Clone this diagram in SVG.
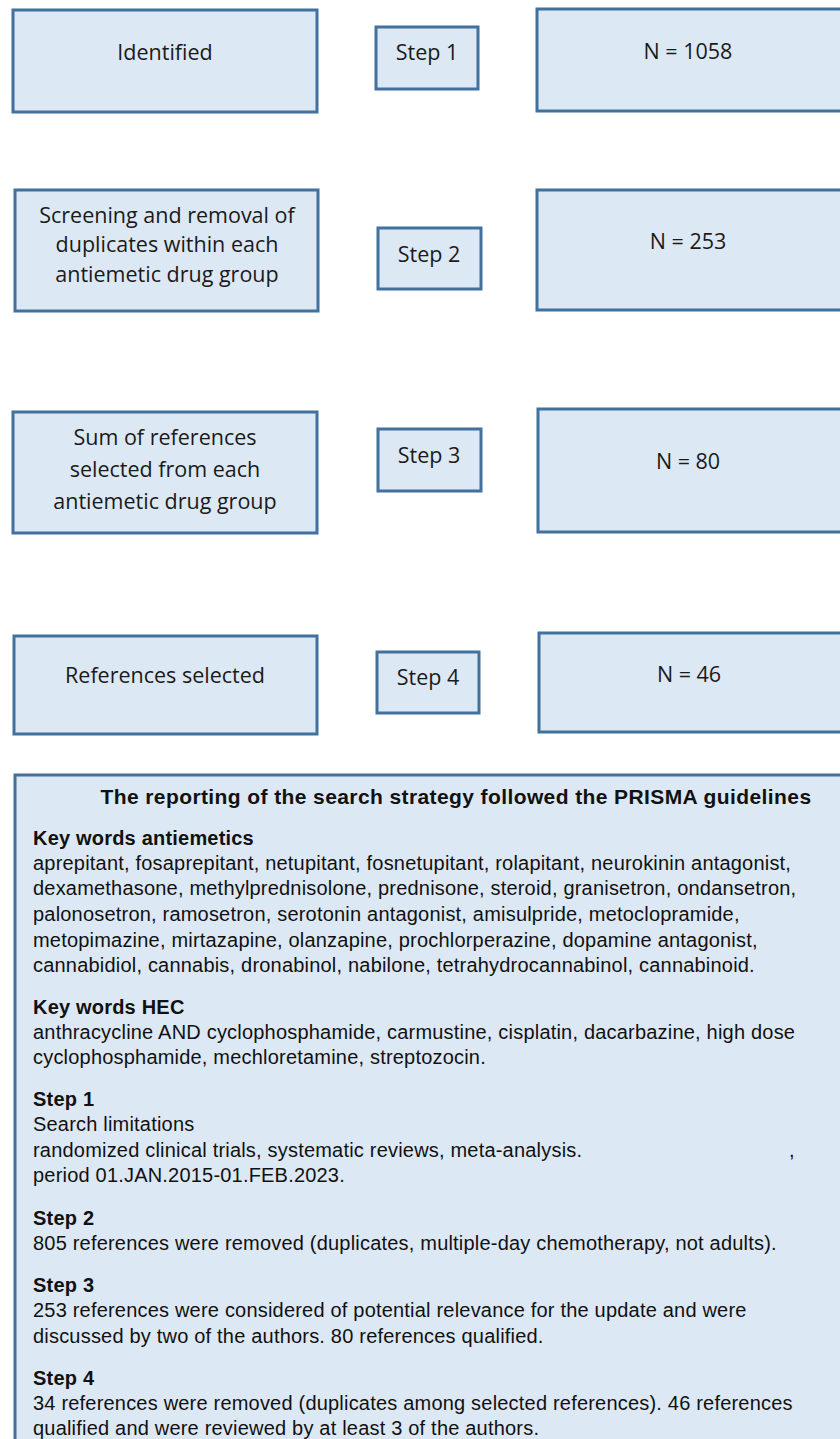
<svg xmlns="http://www.w3.org/2000/svg" width="840" height="1439" viewBox="0 0 840 1439">
<style>
.box{fill:#dde8f5;stroke:#41719c;stroke-width:3}
.bt{font-family:"Open Sans","Noto Sans",sans-serif;font-size:21.5px;fill:#1a1a1a;text-anchor:middle}
.tx{font-family:"Liberation Sans",Arial,sans-serif;font-size:20px;fill:#111;letter-spacing:0.2px}
.b{font-weight:bold}
.ti{font-size:21px;letter-spacing:0.4px}
</style>
<rect width="840" height="1439" fill="#fff"/>
<g id="connectors"/>
<g id="identified"><rect class="box" x="13" y="10" width="304" height="102"/><text class="bt" x="165" y="60">Identified</text></g>
<g id="step1"><rect class="box" x="376" y="27" width="102" height="62"/><text class="bt" x="427" y="60">Step 1</text></g>
<g id="n1058"><rect class="box" x="537" y="9" width="320" height="102"/><text class="bt" x="688" y="59">N = 1058</text></g>

<g id="screening"><rect class="box" x="15" y="190" width="303" height="121"/><text class="bt" x="167" y="223">Screening and removal of</text><text class="bt" x="167" y="252">duplicates within each</text><text class="bt" x="167" y="282">antiemetic drug group</text></g>
<g id="step2"><rect class="box" x="378" y="228" width="103" height="61"/><text class="bt" x="429" y="262">Step 2</text></g>
<g id="n253"><rect class="box" x="537" y="190" width="320" height="120"/><text class="bt" x="688" y="249">N = 253</text></g>

<g id="sum"><rect class="box" x="13" y="412" width="304" height="121"/><text class="bt" x="165" y="445">Sum of references</text><text class="bt" x="165" y="477">selected from each</text><text class="bt" x="165" y="509">antiemetic drug group</text></g>
<g id="step3"><rect class="box" x="378" y="429" width="103" height="62"/><text class="bt" x="429" y="463">Step 3</text></g>
<g id="n80"><rect class="box" x="538" y="409" width="320" height="123"/><text class="bt" x="688" y="469">N = 80</text></g>

<g id="selected"><rect class="box" x="14" y="636" width="303" height="98"/><text class="bt" x="165" y="683">References selected</text></g>
<g id="step4"><rect class="box" x="377" y="652" width="102" height="61"/><text class="bt" x="428" y="685">Step 4</text></g>
<g id="n46"><rect class="box" x="539" y="633" width="320" height="99"/><text class="bt" x="689" y="682">N = 46</text></g>

<g id="notes">
<rect class="box" x="15" y="775" width="840" height="700"/>
<text class="tx b ti" x="456" y="804" text-anchor="middle">The reporting of the search strategy followed the PRISMA guidelines</text>
<text class="tx b" x="33" y="845">Key words antiemetics</text>
<text class="tx" x="33" y="870">aprepitant, fosaprepitant, netupitant, fosnetupitant, rolapitant, neurokinin antagonist,</text>
<text class="tx" x="33" y="895">dexamethasone, methylprednisolone, prednisone, steroid, granisetron, ondansetron,</text>
<text class="tx" x="33" y="921">palonosetron, ramosetron, serotonin antagonist, amisulpride, metoclopramide,</text>
<text class="tx" x="33" y="947">metopimazine, mirtazapine, olanzapine, prochlorperazine, dopamine antagonist,</text>
<text class="tx" x="33" y="972">cannabidiol, cannabis, dronabinol, nabilone, tetrahydrocannabinol, cannabinoid.</text>
<text class="tx b" x="33" y="1014">Key words HEC</text>
<text class="tx" x="33" y="1039">anthracycline AND cyclophosphamide, carmustine, cisplatin, dacarbazine, high dose</text>
<text class="tx" x="33" y="1064">cyclophosphamide, mechloretamine, streptozocin.</text>
<text class="tx b" x="33" y="1106">Step 1</text>
<text class="tx" x="33" y="1131">Search limitations</text>
<text class="tx" x="33" y="1157">randomized clinical trials, systematic reviews, meta-analysis.</text>
<text class="tx" x="789" y="1157">,</text>
<text class="tx" x="33" y="1182">period 01.JAN.2015-01.FEB.2023.</text>
<text class="tx b" x="33" y="1225">Step 2</text>
<text class="tx" x="33" y="1250">805 references were removed (duplicates, multiple-day chemotherapy, not adults).</text>
<text class="tx b" x="33" y="1292">Step 3</text>
<text class="tx" x="33" y="1317">253 references were considered of potential relevance for the update and were</text>
<text class="tx" x="33" y="1343">discussed by two of the authors. 80 references qualified.</text>
<text class="tx b" x="33" y="1385">Step 4</text>
<text class="tx" x="33" y="1410">34 references were removed (duplicates among selected references). 46 references</text>
<text class="tx" x="33" y="1435">qualified and were reviewed by at least 3 of the authors.</text>
</g>
</svg>
